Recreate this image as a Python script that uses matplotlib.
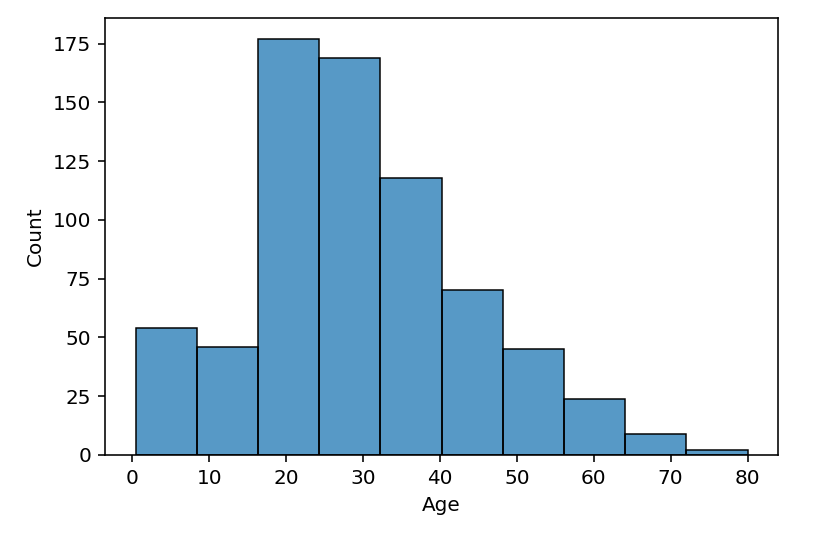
import numpy as np
import matplotlib
matplotlib.use('Agg')
import matplotlib.pyplot as plt

# Titanic passenger ages, 10 bins between youngest and oldest
age_min = 0.42
age_max = 80.0
counts = [54, 46, 177, 169, 118, 70, 45, 24, 9, 2]
xticks = [0, 10, 20, 30, 40, 50, 60, 70, 80]
yticks = [0, 25, 50, 75, 100, 125, 150, 175]

edges = np.linspace(age_min, age_max, len(counts) + 1)

fig = plt.figure(figsize=(814 / 144, 534 / 144), dpi=144)
ax = fig.add_axes([0.129, 0.148, 0.827, 0.818])

ax.bar(edges[:-1], counts, width=np.diff(edges), align='edge',
       color='#1f77b4', alpha=0.75, linewidth=0)
# edges drawn fully opaque on top
ax.bar(edges[:-1], counts, width=np.diff(edges), align='edge',
       fill=False, edgecolor='black', linewidth=0.75)

ax.set_xticks(xticks)
ax.set_yticks(yticks)
ax.set_xlim(age_min - 0.05 * (age_max - age_min), age_max + 0.05 * (age_max - age_min))
ax.set_ylim(0, max(counts) * 1.05)
ax.tick_params(labelsize=10)
ax.set_xlabel('Age', fontsize=10)
ax.set_ylabel('Count', fontsize=10)

fig.savefig('out.png', dpi=144)
